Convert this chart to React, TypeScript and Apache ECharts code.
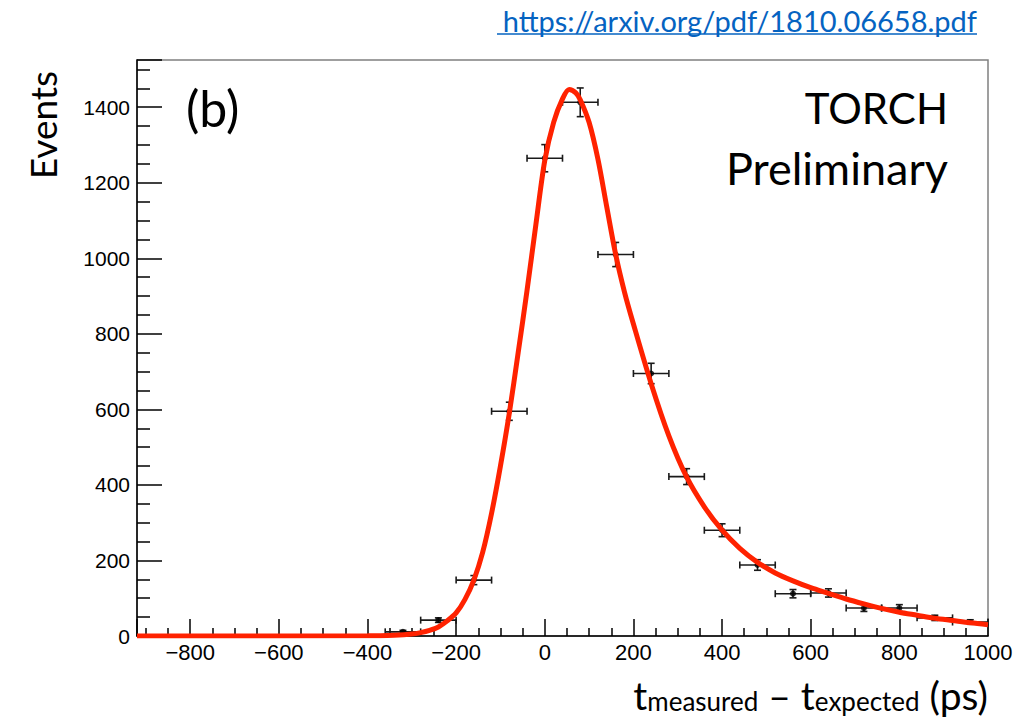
import React, { useEffect, useRef } from "react";
import * as echarts from "echarts";

// Histogram (bin centres, counts, statistical errors), bin width 80 ps
const binWidth = 80;
const binCenters = [-320, -240, -160, -80, 0, 80, 160, 240, 320, 400, 480, 560, 640, 720, 800, 880, 960];
const counts = [11, 42, 148, 595, 1265, 1413, 1010, 695, 422, 280, 188, 112, 114, 74, 74, 48, 37];
const countErrors = [4, 6, 12, 24, 36, 38, 32, 27, 21, 17, 14, 11, 11, 9, 9, 7, 6];

// Fit curve
const fitX = [-920, -400, -340, -300, -280, -260, -240, -220, -200, -180, -160, -140, -120, -100, -80, -60, -40, -20, 0, 20, 40, 55, 70, 80, 100, 120, 140, 160, 180, 200, 240, 280, 320, 360, 400, 440, 480, 520, 560, 600, 640, 680, 720, 760, 800, 840, 880, 920, 960, 1000];
const fitY = [0, 0.5, 2, 5, 9, 15, 24, 40, 61, 97, 148, 222, 325, 450, 590, 750, 915, 1090, 1259, 1360, 1422, 1447, 1438, 1420, 1360, 1262, 1135, 1010, 910, 826, 668, 530, 421, 342, 280, 232, 195, 167, 146, 128, 113, 98, 85, 73, 63, 55, 47, 41, 35, 30];

const xMin = -920;
const xMax = 1000;
const yMin = 0;
const yMax = 1525;

const linkText = "https://arxiv.org/pdf/1810.06658.pdf";
const panelLabel = "(b)";
const expLabel1 = "TORCH";
const expLabel2 = "Preliminary";
const yTitle = "Events";

export default function App() {
  const ref = useRef<HTMLDivElement>(null);
  useEffect(() => {
    if (!ref.current) return;
    const chart = echarts.init(ref.current, null, { renderer: "svg" });
    const histData = binCenters.map((x, i) => [x, counts[i], countErrors[i]]);
    const fitData = fitX.map((x, i) => [x, fitY[i]]);
    const tickFont = "'Liberation Sans', Arial, sans-serif";
    const titleFont = "Lato, 'Open Sans', sans-serif";
    const fmt = (v: number) => (v < 0 ? "\u2212" + Math.abs(v) : String(v));
    const option: any = {
      animation: false,
      backgroundColor: "#ffffff",
      grid: {
        left: 137,
        right: 47,
        top: 60,
        bottom: 82,
        show: true,
        borderColor: "#808080",
        borderWidth: 1.5,
        backgroundColor: "transparent",
      },
      xAxis: {
        type: "value",
        min: xMin,
        max: xMax,
        splitNumber: 10,
        splitLine: { show: false },
        axisLine: { show: true, onZero: false, lineStyle: { color: "#000", width: 1.5 } },
        axisTick: { show: true, inside: true, length: 17, lineStyle: { color: "#000", width: 1.5 } },
        minorTick: { show: true, splitNumber: 4, length: 8, lineStyle: { color: "#000", width: 1.5 } },
        axisLabel: {
          showMinLabel: false,
          fontSize: 22,
          color: "#000",
          fontFamily: tickFont,
          margin: 5,
          formatter: fmt,
        },
      },
      yAxis: {
        type: "value",
        min: yMin,
        max: yMax,
        interval: 200,
        splitLine: { show: false },
        axisLine: { show: true, onZero: false, lineStyle: { color: "#000", width: 1.5 } },
        axisTick: { show: true, inside: true, length: 25, lineStyle: { color: "#000", width: 1.5 } },
        minorTick: { show: true, splitNumber: 4, length: 13, lineStyle: { color: "#000", width: 1.5 } },
        axisLabel: {
          showMaxLabel: false,
          fontSize: 21,
          color: "#000",
          fontFamily: tickFont,
          margin: 7,
          formatter: fmt,
        },
      },
      series: [
        {
          type: "custom",
          data: histData,
          z: 3,
          renderItem: (params: any, api: any) => {
            const x = api.value(0);
            const y = api.value(1);
            const e = api.value(2);
            const l = api.coord([x - binWidth / 2, y]);
            const r = api.coord([x + binWidth / 2, y]);
            const t = api.coord([x, y + e]);
            const b = api.coord([x, y - e]);
            const cap = 3.5;
            const style = { stroke: "#1a1a1a", lineWidth: 1.6 };
            const ln = (x1: number, y1: number, x2: number, y2: number) => ({
              type: "line",
              shape: { x1, y1, x2, y2 },
              style,
            });
            return {
              type: "group",
              children: [
                ln(l[0], l[1], r[0], r[1]),
                ln(l[0], l[1] - cap, l[0], l[1] + cap),
                ln(r[0], r[1] - cap, r[0], r[1] + cap),
                ln(t[0], t[1], b[0], b[1]),
                ln(t[0] - cap, t[1], t[0] + cap, t[1]),
                ln(b[0] - cap, b[1], b[0] + cap, b[1]),
              ],
            };
          },
        },
        {
          type: "scatter",
          data: histData.map((d) => [d[0], d[1]]),
          symbol: "circle",
          symbolSize: 6,
          itemStyle: { color: "#000" },
          z: 4,
        },
        {
          type: "line",
          data: fitData,
          smooth: 0.3,
          showSymbol: false,
          symbol: "none",
          lineStyle: { color: "#ff2200", width: 5 },
          z: 5,
        },
      ],
      graphic: [
        {
          type: "text",
          x: 977,
          y: 20,
          style: {
            text: linkText,
            fill: "#0563c1",
            font: `29px ${titleFont}`,
            align: "right",
            verticalAlign: "middle",
          },
        },
        {
          type: "line",
          shape: { x1: 497, y1: 34, x2: 977, y2: 34 },
          style: { stroke: "#0563c1", lineWidth: 1.5 },
        },
        {
          type: "text",
          x: 186,
          y: 108,
          style: {
            text: panelLabel,
            fill: "#000",
            font: `50px ${titleFont}`,
            verticalAlign: "middle",
          },
        },
        {
          type: "text",
          x: 948,
          y: 108,
          style: {
            text: expLabel1,
            fill: "#000",
            font: `42px ${titleFont}`,
            align: "right",
            verticalAlign: "middle",
          },
        },
        {
          type: "text",
          x: 948,
          y: 168,
          style: {
            text: expLabel2,
            fill: "#000",
            font: `45px ${titleFont}`,
            align: "right",
            verticalAlign: "middle",
          },
        },
        {
          type: "text",
          x: 42,
          y: 125,
          rotation: Math.PI / 2,
          style: {
            text: yTitle,
            fill: "#000",
            font: `37px ${titleFont}`,
            align: "center",
            verticalAlign: "middle",
          },
        },
        {
          type: "text",
          x: 988,
          y: 693,
          style: {
            text: "{t|t}{s|measured}{t| \u2013 t}{s|expected}{t| (ps)}",
            align: "right",
            verticalAlign: "middle",
            rich: {
              t: { fontSize: 39, fontFamily: titleFont, fill: "#000", color: "#000", verticalAlign: "bottom", lineHeight: 42 },
              s: { fontSize: 26, fontFamily: titleFont, fill: "#000", color: "#000", verticalAlign: "bottom", lineHeight: 36 },
            },
          },
        },
      ],
    };
    chart.setOption(option);
    return () => chart.dispose();
  }, []);
  return (
    <div
      ref={ref}
      style={{ position: "fixed", left: 0, top: 0, width: 1035, height: 718, background: "#fff" }}
    />
  );
}
